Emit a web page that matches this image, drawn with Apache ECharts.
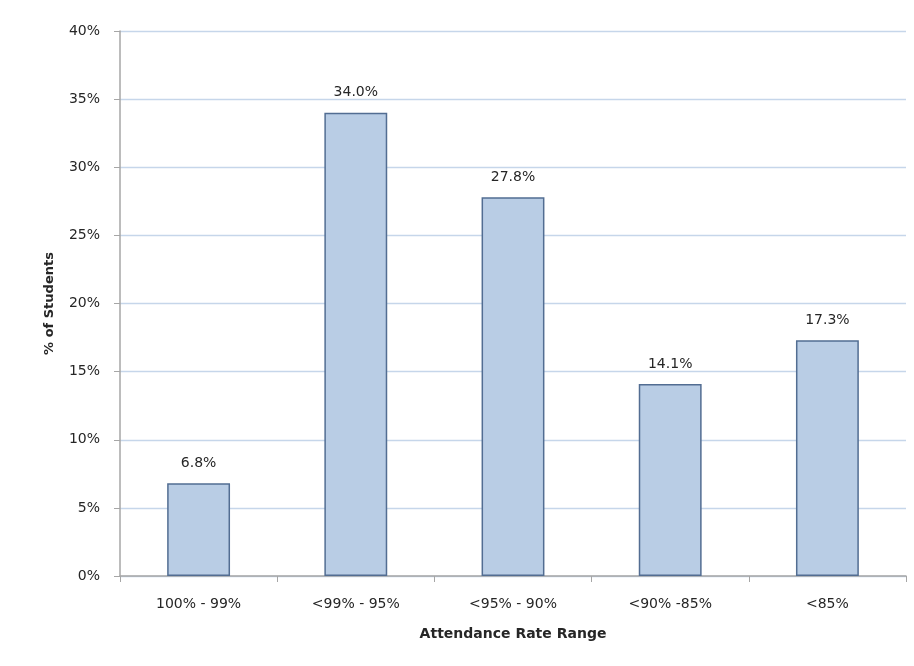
<!DOCTYPE html>
<html><head><meta charset="utf-8">
<script src="https://cdn.jsdelivr.net/npm/echarts@6/dist/echarts.min.js"></script>
<style>html,body{margin:0;padding:0;background:#fff}#c{width:914px;height:666px}</style>
</head><body><div id="c"></div>
<script>
const categories = ['100% - 99%', '<99% - 95%', '<95% - 90%', '<90% -85%', '<85%'];
const values = [6.8, 34.0, 27.8, 14.1, 17.3];
const yTicks = [0, 5, 10, 15, 20, 25, 30, 35, 40];

const chart = echarts.init(document.getElementById('c'));
const font = 'DejaVu Sans';
chart.setOption({
  animation: false,
  grid: {left: 120, right: 8, top: 31, bottom: 90, containLabel: false},
  xAxis: {
    type: 'category', data: categories,
    name: 'Attendance Rate Range', nameLocation: 'middle', nameGap: 51,
    nameTextStyle: {fontFamily: font, fontSize: 14, fontWeight: 'bold', color: '#262626'},
    axisLine: {lineStyle: {color: '#a6a6a6', width: 1.5}},
    axisTick: {show: true, length: 6, lineStyle: {color: '#a6a6a6'}},
    axisLabel: {fontFamily: font, fontSize: 14, color: '#262626', margin: 21}
  },
  yAxis: {
    type: 'value', min: yTicks[0], max: yTicks[yTicks.length - 1], interval: 5,
    name: '% of Students', nameLocation: 'middle', nameGap: 64, nameRotate: 90,
    nameTextStyle: {fontFamily: font, fontSize: 13, fontWeight: 'bold', color: '#262626'},
    axisLine: {show: true, lineStyle: {color: '#a6a6a6', width: 1.5}},
    axisTick: {show: true, length: 6, lineStyle: {color: '#a6a6a6'}},
    axisLabel: {fontFamily: font, fontSize: 14, color: '#262626', margin: 20, formatter: v => v + '%'},
    splitLine: {lineStyle: {color: '#c6d6ea', width: 1.3}}
  },
  series: [{
    type: 'bar', data: values, barWidth: '40%',
    itemStyle: {color: '#b9cde5', borderColor: '#526d92', borderWidth: 1.5},
    label: {show: true, position: 'top', distance: 13, fontFamily: font, fontSize: 14, color: '#262626',
      formatter: p => p.value.toFixed(1) + '%'}
  }]
});
</script></body></html>
